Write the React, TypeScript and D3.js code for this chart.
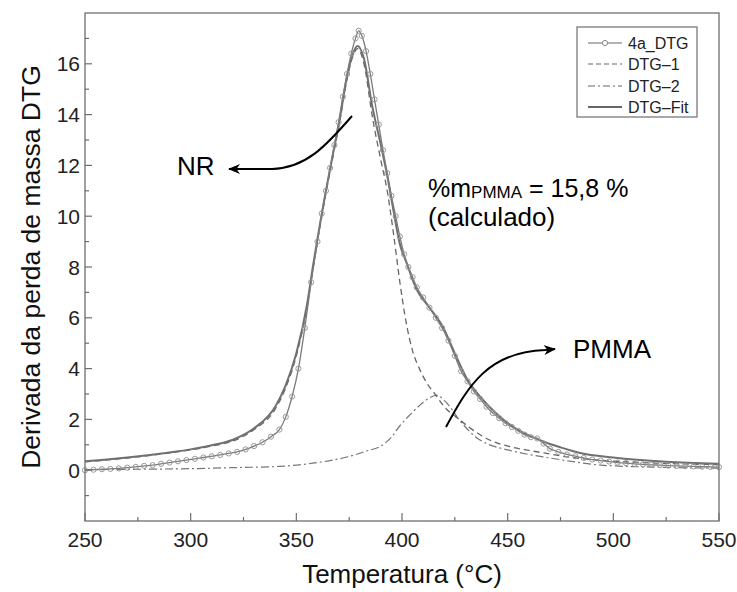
import React from "react";
import * as d3 from "d3";

const expT = [250,254,258,262,266,270,274,278,282,286,290,294,298,302,306,310,314,318,322,326,330,334,338,342,345,348,351,354,357,360,362,364,366,368,370,372,374,376,378,379.5,381,383,385,387,389,391,393,395,397,399,401,403,405,407,410,413,416,419,422,425,428,431,434,437,440,443,446,449,452,455,458,461,464,467,470,474,478,482,486,490,494,498,502,506,510,514,518,522,526,530,534,538,542,546,550];
const expV = [0.0,0.02,0.04,0.05,0.07,0.1,0.13,0.17,0.2,0.25,0.3,0.35,0.4,0.45,0.5,0.55,0.6,0.66,0.72,0.82,0.95,1.1,1.32,1.6,2.1,2.9,4.0,5.6,7.4,9.0,10.1,11.0,11.9,12.8,13.7,14.7,15.6,16.4,17.0,17.3,17.1,16.5,15.6,14.6,13.6,12.6,11.7,10.8,10.0,9.2,8.5,8.0,7.6,7.2,6.8,6.4,6.0,5.6,5.1,4.5,3.9,3.5,3.1,2.8,2.5,2.25,2.05,1.85,1.7,1.55,1.4,1.3,1.25,1.05,0.85,0.72,0.62,0.55,0.48,0.42,0.38,0.34,0.3,0.28,0.25,0.23,0.21,0.2,0.18,0.17,0.16,0.15,0.14,0.13,0.12];

const dtg1T = [250,270,290,300,310,320,330,340,345,350,355,358,361,364,367,370.7,374,377,379,382,386,390,393,396,399,402,405,408.5,412,415.6,420,427.5,435,441.7,450,460,468.5,480,494,520,550];
const dtg1V = [0.33,0.48,0.68,0.8,0.95,1.15,1.6,2.4,3.25,4.5,6.4,8.0,9.5,10.9,12.2,13.8,15.4,16.35,16.6,16.0,13.9,12.2,11.0,9.3,7.4,5.8,4.7,3.95,3.4,3.0,2.5,1.97,1.5,1.18,0.95,0.78,0.66,0.5,0.39,0.28,0.22];

const dtg2T = [250,280,300,320,342,360,374,383,390,395,399,404,409,413,416.5,420,424,426,430,435,440,450,460,468.5,480,494,520,550];
const dtg2V = [0.02,0.04,0.06,0.1,0.15,0.3,0.52,0.75,0.95,1.3,1.75,2.2,2.6,2.85,2.95,2.75,2.35,2.1,1.7,1.3,1.05,0.8,0.62,0.5,0.35,0.2,0.12,0.08];

const fitT = [250,270,290,300,310,320,330,340,345,350,355,358,361,364,367,370.7,374,377,379,382,386,390,393,396,399,402,407,413,419.6,425,431.4,437,445,452.7,465.3,475,484.3,500,525,550];
const fitV = [0.35,0.5,0.7,0.82,0.98,1.2,1.65,2.5,3.35,4.6,6.5,8.1,9.6,11.0,12.3,13.9,15.5,16.45,16.7,16.2,14.3,12.8,11.6,10.2,8.9,8.2,7.1,6.4,5.6,4.6,3.5,2.9,2.2,1.7,1.18,0.9,0.68,0.5,0.33,0.25];

const xTicks = [250,300,350,400,450,500,550];
const xMinor = [275,325,375,425,475,525];
const yTicks = [0,2,4,6,8,10,12,14,16];
const yMinor = [-1,1,3,5,7,9,11,13,15,17];

const legendItems = ["4a_DTG","DTG\u20131","DTG\u20132","DTG\u2013Fit"];

const W = 737, H = 592;
const L = 85, R = 719, T = 13, B = 521;

export default function App() {
  const x = d3.scaleLinear().domain([250, 550]).range([L, R]);
  const y = d3.scaleLinear().domain([-2, 18]).range([B, T]);
  const mk = (ts: number[], vs: number[]) =>
    d3.line<number>().x((_, i) => x(ts[i])).y((v) => y(v)).curve(d3.curveMonotoneX)(vs) || "";

  const gray = "#6e6e6e";
  const font = "Arial, 'Liberation Sans', Helvetica, sans-serif";
  const legY = [43, 64, 86, 107];
  const dashes = [null, "5,3", "7,3,2,3", null];

  return (
    <svg width={W} height={H} style={{ position: "fixed", left: 0, top: 0, background: "#fff" }} fontFamily={font}>
      <rect x={0} y={0} width={W} height={H} fill="#fff" />
      {/* curves */}
      <path d={mk(dtg2T, dtg2V)} fill="none" stroke="#777" strokeWidth={1.2} strokeDasharray="8,3,2,3" />
      <path d={mk(dtg1T, dtg1V)} fill="none" stroke="#666" strokeWidth={1.3} strokeDasharray="6,4" />
      <path d={mk(fitT, fitV)} fill="none" stroke="#707070" strokeWidth={2} />
      <path d={mk(expT, expV)} fill="none" stroke="#7a7a7a" strokeWidth={1.3} />
      {expT.map((t, i) => (
        <circle key={i} cx={x(t)} cy={y(expV[i])} r={2.6} fill="none" stroke="#999" strokeWidth={1} />
      ))}
      {/* frame */}
      <rect x={L} y={T} width={R - L} height={B - T} fill="none" stroke={gray} strokeWidth={1.3} />
      {xTicks.map((t) => (
        <g key={"x" + t}>
          <line x1={x(t)} x2={x(t)} y1={B} y2={B - 8} stroke={gray} strokeWidth={1.2} />
          <text x={x(t)} y={547} fontSize={21} textAnchor="middle" fill="#222">{t}</text>
        </g>
      ))}
      {xMinor.map((t) => (
        <line key={"xm" + t} x1={x(t)} x2={x(t)} y1={B} y2={B - 4} stroke={gray} strokeWidth={1.2} />
      ))}
      {yTicks.map((v) => (
        <g key={"y" + v}>
          <line x1={L} x2={L + 7} y1={y(v)} y2={y(v)} stroke={gray} strokeWidth={1.2} />
          <text x={80} y={y(v) + 7.5} fontSize={21} textAnchor="end" fill="#222">{v}</text>
        </g>
      ))}
      {yMinor.map((v) => (
        <line key={"ym" + v} x1={L} x2={L + 4} y1={y(v)} y2={y(v)} stroke={gray} strokeWidth={1.2} />
      ))}
      {/* legend */}
      <rect x={577} y={27} width={120} height={90} fill="#fff" stroke={gray} strokeWidth={1.2} />
      {legendItems.map((s, i) => (
        <g key={s}>
          <line x1={588} x2={622} y1={legY[i]} y2={legY[i]} stroke="#666" strokeWidth={i === 3 ? 2 : 1.2}
            strokeDasharray={dashes[i] || undefined} />
          {i === 0 && <circle cx={605} cy={legY[i]} r={2.6} fill="#fff" stroke="#888" />}
          <text x={628} y={legY[i] + 5.5} fontSize={16} fill="#222">{s}</text>
        </g>
      ))}
      {/* axis titles */}
      <text x={(L + R) / 2} y={583} fontSize={26} textAnchor="middle" fill="#111">Temperatura (°C)</text>
      <text transform="translate(40,267) rotate(-90)" fontSize={26.5} textAnchor="middle" fill="#111">Derivada da perda de massa DTG</text>
      {/* annotations */}
      <defs>
        <marker id="ah" viewBox="0 0 12 10" refX={11} refY={5} markerWidth={12} markerHeight={10} orient="auto" markerUnits="userSpaceOnUse">
          <path d="M0,0 L12,5 L0,10 L3.5,5 Z" fill="#000" />
        </marker>
      </defs>
      <path d="M352,116 C326,146 306,168 272,169 L229,169" fill="none" stroke="#000" strokeWidth={2} markerEnd="url(#ah)" />
      <text x={177} y={175} fontSize={26} fill="#000">NR</text>
      <path d="M446,427 C468,386 488,352 545,350 L555,349" fill="none" stroke="#000" strokeWidth={2} markerEnd="url(#ah)" />
      <text x={573} y={358} fontSize={26} fill="#000">PMMA</text>
      <text x={428} y={197} fontSize={25} fill="#000">
        %m<tspan fontSize={17} dy={1}>PMMA</tspan><tspan dy={-1}> = 15,8 %</tspan>
      </text>
      <text x={428} y={226} fontSize={26} fill="#000">(calculado)</text>
    </svg>
  );
}
